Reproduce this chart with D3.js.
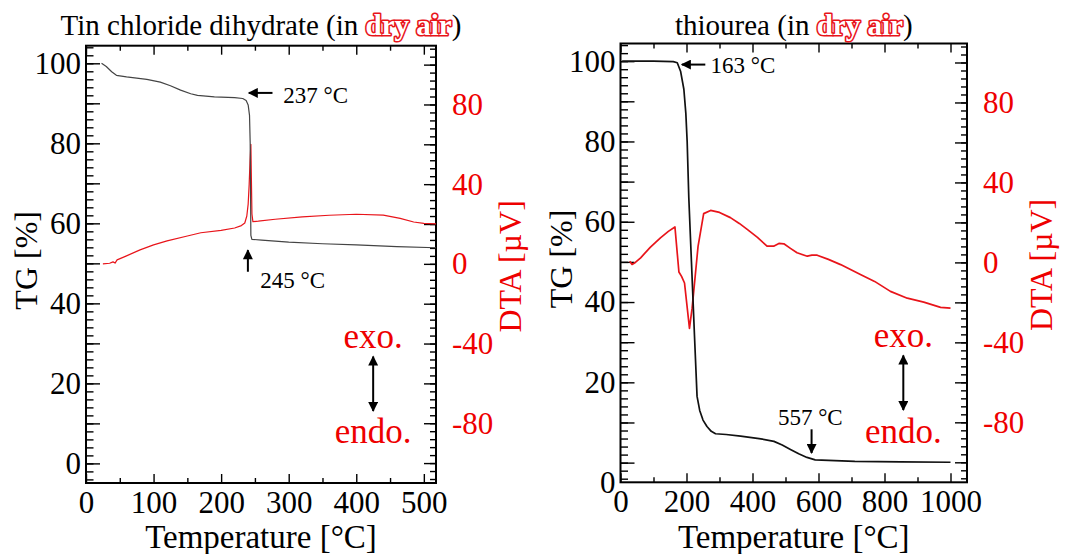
<!DOCTYPE html>
<html lang="en">
<head>
<meta charset="UTF-8" />
<style>
  body { margin: 0; background: #fff; }
  text { font-family: "Liberation Serif", serif; }
  .tick line { stroke: #000; stroke-width: 1.4; }
</style>
</head>
<body>
<script src="https://cdn.jsdelivr.net/npm/d3@7"></script>
<script>
// ---- data ----
// Tin chloride dihydrate, [temperature, value]
var tinTG = [[23,100],[30,99.2],[38,97.9],[45,97.0],[60,96.6],[90,96.0],[110,95.3],[125,94.4],[140,93.3],[155,92.4],[165,92.0],[190,91.6],[220,91.4],[232,91.2],[237,90.7],[240,89.6],[242,87],[243,80],[243.6,66],[244,57],[245.5,56.0],[260,55.8],[300,55.3],[350,54.9],[400,54.6],[460,54.2],[518,53.9]];
var tinDTA = [[25,0],[35,0.3],[40,1],[43,0.4],[46,2],[60,4],[80,7],[100,9.5],[120,11.5],[150,14],[170,15.6],[200,16.8],[220,18],[230,19.2],[235,20.5],[238,24],[240,30],[241.5,40],[242.8,52],[244,60],[244.8,42],[245.6,25],[247,21.2],[255,21.4],[280,22.4],[320,23.6],[360,24.4],[400,24.9],[440,24.5],[465,22.8],[485,21],[500,20.3],[518,20.1]];
// thiourea
var thioTG = [[5,100],[100,100],[160,99.9],[172,99.6],[182,97.5],[192,93],[198,87],[202,80],[207,66],[215,50],[224,32],[232,16.5],[240,13],[250,10.6],[262,9],[275,7.8],[288,7.2],[320,7.0],[364,6.6],[420,6.0],[465,5.3],[490,4.4],[515,3.3],[540,2.2],[565,1.3],[590,0.7],[650,0.5],[710,0.3],[850,0.2],[1000,0.1]];
var thioDTA = [[28,0.6],[35,-1],[45,0],[61,2.3],[90,7.5],[121,12.3],[145,15.5],[165,17.7],[177,-4.8],[185,-7],[194,-10.3],[209,-33],[217,-22.9],[235,8],[252,24.4],[273,26],[300,25],[333,22.4],[360,19.5],[384,16.5],[415,12.5],[444,8.1],[464,8.1],[480,9.5],[495,9.3],[515,7],[535,4.8],[566,3.1],[580,3.6],[596,3.6],[630,1.5],[667,-1.1],[727,-6.1],[770,-9.5],[818,-14.5],[869,-17.9],[919,-19.9],[970,-22.5],[1000,-22.9]];

// axis tick values
var tgLabels = [0, 20, 40, 60, 80, 100];
var dtaLabels = [-80, -40, 0, 40, 80];
var tinXLabels = [0, 100, 200, 300, 400, 500];
var thioXLabels = [0, 200, 400, 600, 800, 1000];

// annotations in data units: [x, tg]
var tinNotes = [
  {text: "237 °C", arrow: [[276, 92.6], [241, 92.6]], at: [292, 90.2]},
  {text: "245 °C", arrow: [[239.6, 47.9], [239.6, 53.3]], at: [258, 43.8]}
];
var thioNotes = [
  {text: "163 °C", arrow: [[257, 99.15], [186, 99.15]], at: [273, 97.1]},
  {text: "557 °C", arrow: [[579, 8.3], [579, 2.4]], at: [477, 9.4]}
];

var fmt = function (d) { return String(d); };

var svg = d3.select("body").append("svg")
  .attr("width", 1074).attr("height", 554);

var defs = svg.append("defs");
defs.append("marker")
  .attr("id", "head")
  .attr("viewBox", "0 0 10 10")
  .attr("refX", 9).attr("refY", 5)
  .attr("markerWidth", 5.5).attr("markerHeight", 5)
  .attr("markerUnits", "strokeWidth")
  .attr("orient", "auto-start-reverse")
  .append("path").attr("d", "M0,0 L10,5 L0,10 Z").attr("fill", "#000");

function drawPanel(cfg) {
  var x = d3.scaleLinear().domain(cfg.xDomain).range([cfg.left, cfg.right]);
  var y = d3.scaleLinear().domain([-4.9, 104.4]).range([cfg.bottom, cfg.top]);
  var y2 = d3.scaleLinear().domain([-110, 109.5]).range([cfg.bottom, cfg.top]);
  var w = cfg.right - cfg.left;
  var g = svg.append("g");

  // left TG axis
  var lg = g.append("g").attr("transform", "translate(" + cfg.left + ",0)");
  lg.call(d3.axisLeft(y).tickValues(d3.range(-4, 105, 2)).tickSizeInner(-7.5).tickSizeOuter(0).tickFormat(""));
  lg.append("g").call(d3.axisLeft(y).tickValues(d3.range(0, 101, 10)).tickSizeInner(-14).tickSizeOuter(0).tickFormat(""));
  var lbl = lg.append("g").call(d3.axisLeft(y).tickValues(tgLabels).tickSize(0).tickPadding(5).tickFormat(fmt));
  lg.selectAll(".domain").remove();
  lbl.selectAll("text").attr("font-size", 31).attr("fill", "#000").style("font-family", "Liberation Serif");
  if (cfg.zeroShift) {
    lbl.selectAll(".tick").filter(function (d) { return d === 0; }).select("text").attr("y", cfg.zeroShift);
  }

  // right DTA axis
  var rg = g.append("g").attr("transform", "translate(" + cfg.right + ",0)");
  rg.call(d3.axisRight(y2).tickValues(d3.range(-108, 109, 4)).tickSizeInner(-6).tickSizeOuter(0).tickFormat(""));
  rg.append("g").call(d3.axisRight(y2).tickValues(d3.range(-100, 101, 20)).tickSizeInner(-12).tickSizeOuter(0).tickFormat(""));
  var rl = rg.append("g").call(d3.axisRight(y2).tickValues(dtaLabels).tickSize(0).tickPadding(16).tickFormat(fmt));
  rg.selectAll(".domain").remove();
  rl.selectAll("text").attr("font-size", 31).attr("fill", "#e00").style("font-family", "Liberation Serif");

  // bottom & top temperature axes
  var bg = g.append("g").attr("transform", "translate(0," + cfg.bottom + ")");
  bg.call(d3.axisBottom(x).tickValues(cfg.xMinor).tickSizeInner(-5).tickSizeOuter(0).tickFormat(""));
  var bl = bg.append("g").call(d3.axisBottom(x).tickValues(cfg.xLabels).tickSizeInner(-9).tickSizeOuter(0).tickPadding(8).tickFormat(fmt));
  bg.selectAll(".domain").remove();
  bl.selectAll("text").attr("font-size", 31).attr("fill", "#000").style("font-family", "Liberation Serif");

  var tg = g.append("g").attr("transform", "translate(0," + cfg.top + ")");
  tg.call(d3.axisTop(x).tickValues(cfg.xMinor).tickSizeInner(-5).tickSizeOuter(0).tickFormat(""));
  tg.append("g").call(d3.axisTop(x).tickValues(cfg.xLabels).tickSizeInner(-9).tickSizeOuter(0).tickFormat(""));
  tg.selectAll(".domain").remove();

  // frame
  g.append("rect")
    .attr("x", cfg.left).attr("y", cfg.top)
    .attr("width", w).attr("height", cfg.bottom - cfg.top)
    .attr("fill", "none").attr("stroke", "#000").attr("stroke-width", 2);

  // curves
  var line1 = d3.line().x(function (d) { return x(d[0]); }).y(function (d) { return y(d[1]); });
  var line2 = d3.line().x(function (d) { return x(d[0]); }).y(function (d) { return y2(d[1]); });
  g.append("path").attr("d", line2(cfg.dta)).attr("fill", "none")
    .attr("stroke", "#e8141a").attr("stroke-width", cfg.lw).attr("stroke-linejoin", "round");
  g.append("path").attr("d", line1(cfg.tg)).attr("fill", "none")
    .attr("stroke", cfg.tgColor).attr("stroke-width", cfg.lw).attr("stroke-linejoin", "round");

  // temperature annotations
  cfg.notes.forEach(function (n) {
    g.append("line")
      .attr("x1", x(n.arrow[0][0])).attr("y1", y(n.arrow[0][1]))
      .attr("x2", x(n.arrow[1][0])).attr("y2", y(n.arrow[1][1]))
      .attr("stroke", "#000").attr("stroke-width", 2).attr("marker-end", "url(#head)");
    g.append("text").attr("x", x(n.at[0])).attr("y", y(n.at[1]))
      .attr("font-size", 23).attr("fill", "#000").text(n.text);
  });

  // exo / endo
  var ex = x(cfg.exoX);
  g.append("text").attr("x", ex).attr("y", y(28.8)).attr("text-anchor", "middle")
    .attr("font-size", 35).attr("fill", "#e00").text("exo.");
  g.append("line")
    .attr("x1", ex).attr("y1", y(26.7)).attr("x2", ex).attr("y2", y(13.1))
    .attr("stroke", "#000").attr("stroke-width", 2)
    .attr("marker-start", "url(#head)").attr("marker-end", "url(#head)");
  g.append("text").attr("x", ex).attr("y", y(5.0)).attr("text-anchor", "middle")
    .attr("font-size", 35).attr("fill", "#e00").text("endo.");

  // axis titles
  var cx = (cfg.left + cfg.right) / 2;
  var cy = (cfg.top + cfg.bottom) / 2;
  g.append("text").attr("x", cx).attr("y", 548).attr("text-anchor", "middle")
    .attr("font-size", 33).attr("fill", "#000").text("Temperature [°C]");
  g.append("text").attr("transform", "translate(" + (cfg.left - 49) + "," + (cy - 4) + ") rotate(-90)")
    .attr("text-anchor", "middle").attr("font-size", 32).attr("fill", "#000").text("TG [%]");
  g.append("text").attr("transform", "translate(" + (cfg.right + 85) + "," + (cy + 2) + ") rotate(-90)")
    .attr("text-anchor", "middle").attr("font-size", 32).attr("fill", "#e00").text("DTA [µV]");

  // title
  var t = g.append("text").attr("x", cx).attr("y", 35).attr("text-anchor", "middle")
    .attr("font-size", 29).attr("fill", "#000");
  t.append("tspan").text(cfg.name + " (in ");
  t.append("tspan").text("dry air")
    .attr("font-weight", "bold").attr("fill", "#fff")
    .attr("stroke", "#e8141a").attr("stroke-width", 3.2)
    .style("paint-order", "stroke").attr("stroke-linejoin", "round");
  t.append("tspan").text(")");
}

drawPanel({
  name: "Tin chloride dihydrate",
  left: 86, right: 436, top: 45.7, bottom: 483,
  xDomain: [0, 518], xLabels: tinXLabels, xMinor: [50, 150, 250, 350, 450],
  tg: tinTG, dta: tinDTA, tgColor: "#444", lw: 1.2,
  notes: tinNotes, exoX: 425
});

drawPanel({
  name: "thiourea",
  left: 620.5, right: 967, top: 43.5, bottom: 482.3,
  xDomain: [0, 1050], xLabels: thioXLabels, xMinor: [100, 300, 500, 700, 900],
  tg: thioTG, dta: thioDTA, tgColor: "#111", lw: 1.7,
  notes: thioNotes, exoX: 857, zeroShift: 20
});
</script>
</body>
</html>
